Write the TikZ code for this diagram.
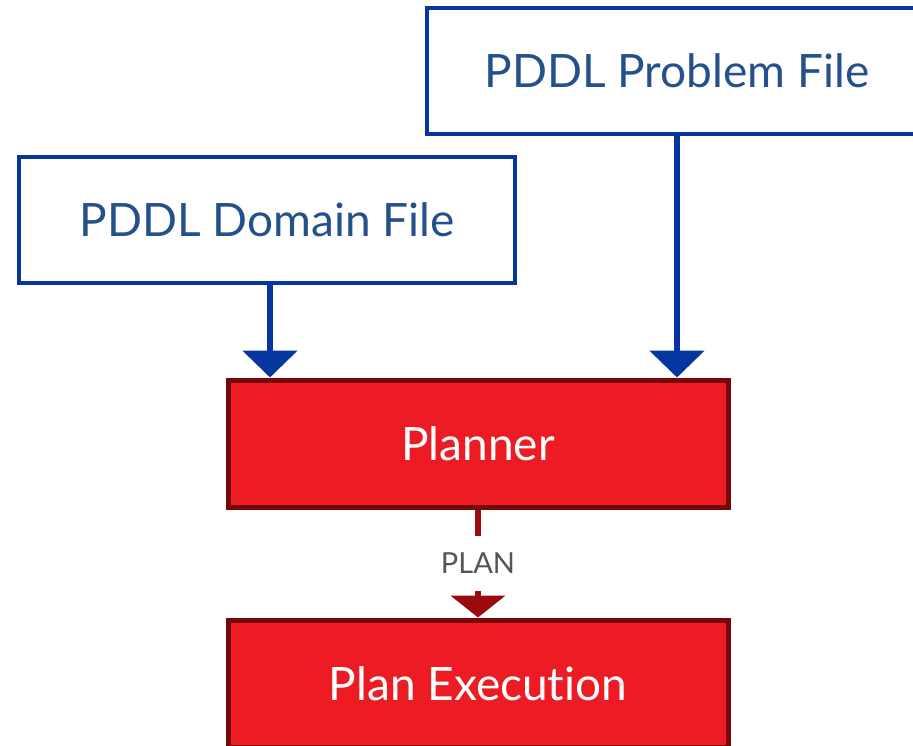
\documentclass[tikz,border=0pt]{standalone}
\usepackage{fontspec}
\setmainfont[Ligatures=NoCommon]{Lato}
\usetikzlibrary{arrows.meta}
\definecolor{fileblue}{HTML}{0536A0}
\definecolor{filetext}{HTML}{24508E}
\definecolor{boxred}{HTML}{ED1C24}
\definecolor{boxdark}{HTML}{780709}
\definecolor{plandark}{HTML}{9B0A0F}
\definecolor{labelgray}{HTML}{555555}
\tikzset{
  filebox/.style={draw=fileblue, line width=4pt, fill=white, text=filetext,
    minimum width=#1, minimum height=126pt, inner sep=0pt,
    font=\fontsize{46}{52}\selectfont},
  filebox/.default=496pt,
  stagebox/.style={draw=boxdark, line width=5pt, fill=boxred, text=white,
    minimum width=500pt, minimum height=127pt, inner sep=0pt,
    font=\fontsize{46}{52}\selectfont},
  feed/.style={draw=fileblue, line width=6pt,
    -{Triangle[width=54pt, length=27pt]}},
  handoff/.style={draw=plandark, line width=6.5pt,
    -{Triangle[width=54pt, length=22pt]}},
  handofflabel/.style={fill=white, text=labelgray, inner sep=0pt,
    minimum height=55pt, minimum width=80pt,
    font=\fontsize{29}{32}\selectfont}
}
\begin{document}
\begin{tikzpicture}[x=1pt, y=-1pt]
  \useasboundingbox (0,0) rectangle (913,745);
  \node[filebox=500pt] (problem) at (677,71) {PDDL Problem File};
  \node[filebox] (domain) at (267,220) {PDDL Domain File};
  \node[stagebox] (planner) at (478,443.5) {Planner};
  % the zero kern keeps "t" and "i" as separate glyphs
  \node[stagebox] (exec) at (478,683.5) {Plan Execut\kern0pt ion};
  \draw[feed] ([xshift=3pt]domain.south) -- ([xshift=3pt]domain.south |- planner.north);
  \draw[feed] (problem.south) -- (problem.south |- planner.north);
  \draw[handoff] (planner.south) -- node[handofflabel] (planlabel) {PLAN} (exec.north);
\end{tikzpicture}
\end{document}
